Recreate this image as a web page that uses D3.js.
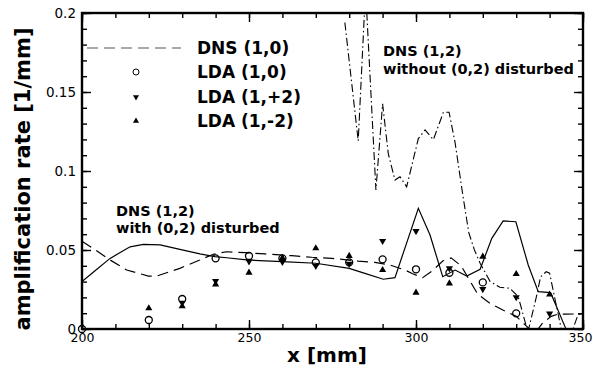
<!DOCTYPE html>
<html>
<head>
<meta charset="utf-8">
<script src="https://cdn.jsdelivr.net/npm/d3@7"></script>
<style>
  body { margin: 0; background: #fff; }
  text { font-family: "DejaVu Sans", sans-serif; fill: #000; }
</style>
</head>
<body>
<svg id="chart" width="593" height="370"></svg>
<script>
// LDA measurements (x in mm)
const ldaX = [200, 220, 230, 240, 250, 260, 270, 280, 290, 300, 310, 320, 330, 340];
const lda10 = [0, 0.0057, 0.019, 0.0447, 0.0462, 0.0447, 0.0422, 0.0422, 0.0441, 0.0378, 0.0356, 0.0295, 0.0099, null];
const ldaP2 = [null, null, 0.0166, 0.0304, 0.0428, 0.0425, 0.0400, 0.0412, 0.0557, 0.062, 0.0384, 0.0253, 0.0201, 0.0097];
const ldaM2 = [null, 0.0131, 0.0144, 0.0282, 0.0357, 0.045, 0.0511, 0.0463, 0.0373, 0.023, 0.0289, 0.0458, 0.0348, 0.0218];

// DNS (1,0) dashed
const dns10X = [200, 204, 208.4, 213.4, 219.9, 222.4, 229.3, 235.3, 239.3, 243.3, 248.8, 254.8, 262.8, 268.8, 274.8, 282.7, 287.7,
  292.2, 296.7, 299, 302, 305, 308, 310.5, 313.5, 316, 318.5, 322, 326, 330, 333, 335.5, 338, 340.5, 342.6, 345, 350];
const dns10Y = [0.0555, 0.050, 0.0437, 0.0373, 0.0335, 0.0335, 0.0384, 0.0437, 0.0473, 0.0489, 0.0483, 0.0475, 0.0464, 0.0454, 0.0447, 0.043, 0.0422,
  0.0405, 0.0373, 0.035, 0.0325, 0.037, 0.043, 0.045, 0.040, 0.031, 0.022, 0.0165, 0.012, 0.008, 0.002, -0.003, 0.004, 0.008, 0.0095, 0.0094, 0.0096];

// DNS (1,2) with (0,2) disturbed, solid
const dnsWithX = [200, 204, 208.4, 214.4, 218.4, 223.4, 229.3, 235.3, 239.8, 243.3, 249.3, 260, 270, 280, 284.7, 290.2, 293.7,
  300.7, 304.2, 308, 311.7, 315.2, 319.2, 322.7, 326.1, 329.9, 333.6, 336.6, 340.3, 344.6, 347];
const dnsWithY = [0.030, 0.037, 0.0447, 0.052, 0.0536, 0.0532, 0.0504, 0.0475, 0.0458, 0.0451, 0.0437, 0.0426, 0.0416, 0.0384, 0.0352, 0.0315, 0.0325,
  0.0764, 0.0595, 0.0331, 0.0373, 0.0335, 0.0378, 0.0574, 0.0684, 0.0679, 0.0405, 0.0236, 0.023, 0.0015, -0.01];

// DNS (1,2) without (0,2) disturbed, dash-dot
const dnsWithoutX = [278.7, 282.7, 284.9, 288, 290, 291.7, 293.7, 295.2, 297.2, 300.7, 302.7, 305.2, 308.2, 309.9, 311.7, 314, 315.8,
  317.5, 319.2, 322.2, 325.1, 328.1, 330.6, 333.5, 336, 337.3, 339, 340, 342, 344, 346, 348.5, 350];
const dnsWithoutY = [0.194, 0.119, 0.215, 0.088, 0.1425, 0.111, 0.0943, 0.0964, 0.090, 0.1205, 0.126, 0.1198, 0.1372, 0.1372, 0.118, 0.085, 0.061,
  0.05, 0.0416, 0.030, 0.0264, 0.0258, 0.0205, -0.002, 0.02, 0.033, 0.0363, 0.0353, 0.015, -0.005, -0.006, 0.009, 0.01];

const xMajor = [200, 250, 300, 350];
const yMajor = [0, 0.05, 0.1, 0.15, 0.2];
const legendLabels = ['DNS (1,0)', 'LDA (1,0)', 'LDA (1,+2)', 'LDA (1,-2)'];

const plotLeft = 82, plotRight = 583, plotTop = 13, plotBottom = 329;

const svg = d3.select('#chart');

const x = d3.scaleLinear().domain([200, 350]).range([plotLeft, plotRight]);
const y = d3.scaleLinear().domain([0, 0.2]).range([plotBottom, plotTop]);

svg.append('defs').append('clipPath').attr('id', 'plot-clip')
  .append('rect')
  .attr('x', plotLeft).attr('y', plotTop)
  .attr('width', plotRight - plotLeft).attr('height', plotBottom - plotTop);

// minor ticks on all sides
const xMinor = d3.range(200, 351, 10);
const yMinor = d3.range(0, 0.2001, 0.01);

function styleAxis(g) {
  g.select('.domain').remove();
  g.selectAll('.tick line').attr('stroke', '#000').attr('stroke-width', 1.4);
}

svg.append('g').attr('transform', `translate(0,${plotBottom})`)
  .call(d3.axisBottom(x).tickValues(xMinor).tickSize(-5).tickFormat(''))
  .call(styleAxis);
svg.append('g').attr('transform', `translate(0,${plotTop})`)
  .call(d3.axisTop(x).tickValues(xMinor).tickSize(-5).tickFormat(''))
  .call(styleAxis);
svg.append('g').attr('transform', `translate(${plotLeft},0)`)
  .call(d3.axisLeft(y).tickValues(yMinor).tickSize(-5).tickFormat(''))
  .call(styleAxis);
svg.append('g').attr('transform', `translate(${plotRight},0)`)
  .call(d3.axisRight(y).tickValues(yMinor).tickSize(-5).tickFormat(''))
  .call(styleAxis);

// major ticks + labels
const xAxis = svg.append('g').attr('transform', `translate(0,${plotBottom})`)
  .call(d3.axisBottom(x).tickValues(xMajor).tickSize(-9).tickPadding(4).tickFormat(d3.format('d')))
  .call(styleAxis);
xAxis.selectAll('text').attr('font-size', 12.5).attr('font-family', 'Liberation Sans').attr('fill', '#000');
// last label would run past the right edge
xAxis.selectAll('text').filter(d => d === 350).attr('dx', -3);

svg.append('g').attr('transform', `translate(0,${plotTop})`)
  .call(d3.axisTop(x).tickValues(xMajor).tickSize(-9).tickFormat(''))
  .call(styleAxis);

const yAxis = svg.append('g').attr('transform', `translate(${plotLeft},0)`)
  .call(d3.axisLeft(y).tickValues(yMajor).tickSize(-9).tickPadding(6).tickFormat(d => d === 0 ? '0' : String(+d.toFixed(2))))
  .call(styleAxis);
yAxis.selectAll('text').attr('font-size', 13.5).attr('font-family', 'Liberation Sans').attr('fill', '#000');

svg.append('g').attr('transform', `translate(${plotRight},0)`)
  .call(d3.axisRight(y).tickValues(yMajor).tickSize(-9).tickFormat(''))
  .call(styleAxis);

// frame
svg.append('rect')
  .attr('x', plotLeft).attr('y', plotTop)
  .attr('width', plotRight - plotLeft).attr('height', plotBottom - plotTop)
  .attr('fill', 'none').attr('stroke', '#000').attr('stroke-width', 2.4);

// curves
const line = d3.line().x(d => x(d[0])).y(d => y(d[1]));
const curves = svg.append('g').attr('clip-path', 'url(#plot-clip)');

curves.append('path')
  .datum(d3.zip(dns10X, dns10Y))
  .attr('d', line)
  .attr('fill', 'none').attr('stroke', '#000').attr('stroke-width', 1.2)
  .attr('stroke-dasharray', '11,6');

curves.append('path')
  .datum(d3.zip(dnsWithX, dnsWithY))
  .attr('d', line)
  .attr('fill', 'none').attr('stroke', '#000').attr('stroke-width', 1.2);

curves.append('path')
  .datum(d3.zip(dnsWithoutX, dnsWithoutY))
  .attr('d', line)
  .attr('fill', 'none').attr('stroke', '#000').attr('stroke-width', 1.1)
  .attr('stroke-dasharray', '8,3,1.5,3');

// markers
const triUp = d3.symbol().type(d3.symbolTriangle).size(22);
const marks = svg.append('g');

marks.selectAll('.tri-up')
  .data(d3.zip(ldaX, ldaM2).filter(d => d[1] !== null))
  .enter().append('path')
  .attr('class', 'tri-up')
  .attr('d', triUp)
  .attr('transform', d => `translate(${x(d[0])},${y(d[1])})`)
  .attr('fill', '#000');

marks.selectAll('.tri-down')
  .data(d3.zip(ldaX, ldaP2).filter(d => d[1] !== null))
  .enter().append('path')
  .attr('class', 'tri-down')
  .attr('d', triUp)
  .attr('transform', d => `translate(${x(d[0])},${y(d[1])}) rotate(180)`)
  .attr('fill', '#000');

marks.selectAll('.circ')
  .data(d3.zip(ldaX, lda10).filter(d => d[1] !== null))
  .enter().append('circle')
  .attr('class', 'circ')
  .attr('cx', d => x(d[0]))
  .attr('cy', d => y(d[1]))
  .attr('r', 3.5)
  .attr('fill', 'none').attr('stroke', '#000').attr('stroke-width', 1.3);

// legend
const legendY = [48, 72, 97, 121];
const legend = svg.append('g');
legend.append('line')
  .attr('x1', 87).attr('x2', 181).attr('y1', legendY[0]).attr('y2', legendY[0])
  .attr('stroke', '#555').attr('stroke-width', 1.2).attr('stroke-dasharray', '11,6');
legend.append('circle')
  .attr('cx', 136).attr('cy', legendY[1]).attr('r', 3)
  .attr('fill', 'none').attr('stroke', '#000').attr('stroke-width', 1);
legend.append('path')
  .attr('d', d3.symbol().type(d3.symbolTriangle).size(16))
  .attr('transform', `translate(136,${legendY[2]}) rotate(180)`);
legend.append('path')
  .attr('d', d3.symbol().type(d3.symbolTriangle).size(16))
  .attr('transform', `translate(136,${legendY[3]})`);
legend.selectAll('.leg-text')
  .data(legendLabels)
  .enter().append('text')
  .attr('class', 'leg-text')
  .attr('x', 197)
  .attr('y', (d, i) => legendY[i] + 6)
  .attr('font-size', 17).attr('font-weight', 'bold')
  .text(d => d);

// annotations
svg.append('text').attr('x', 116).attr('y', 216)
  .attr('font-size', 14.5).attr('font-weight', 'bold').text('DNS (1,2)');
svg.append('text').attr('x', 116).attr('y', 233)
  .attr('font-size', 14.5).attr('font-weight', 'bold').text('with (0,2) disturbed');
svg.append('text').attr('x', 383).attr('y', 56)
  .attr('font-size', 14.5).attr('font-weight', 'bold').text('DNS (1,2)');
svg.append('text').attr('x', 383).attr('y', 74)
  .attr('font-size', 14.5).attr('font-weight', 'bold').text('without (0,2) disturbed');

// axis titles
svg.append('text')
  .attr('x', 327).attr('y', 362)
  .attr('text-anchor', 'middle')
  .attr('font-size', 20).attr('font-weight', 'bold')
  .text('x [mm]');

svg.append('text')
  .attr('transform', 'translate(30,179) rotate(-90)')
  .attr('text-anchor', 'middle')
  .attr('font-size', 21).attr('font-weight', 'bold')
  .text('amplification rate [1/mm]');
</script>
</body>
</html>
